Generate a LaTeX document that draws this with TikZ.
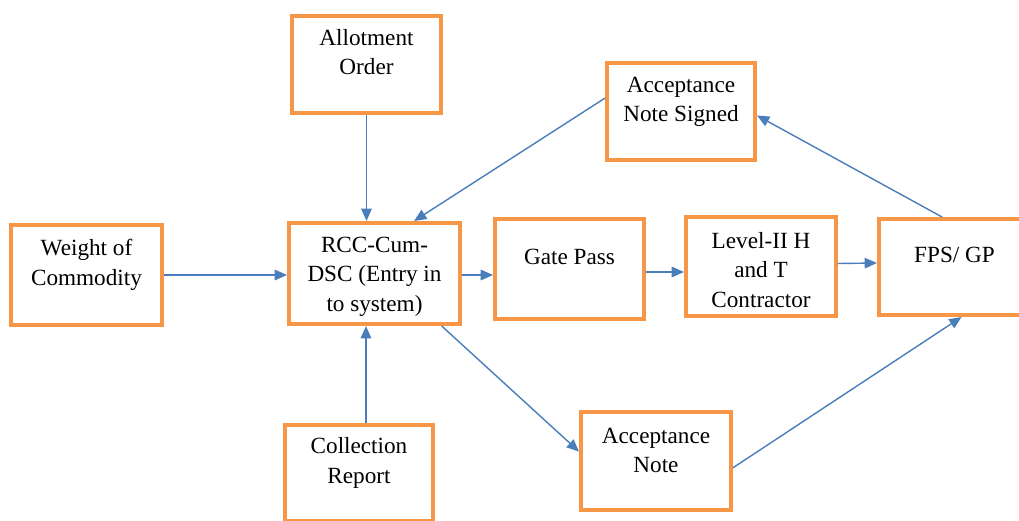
\documentclass[tikz,border=0pt]{standalone}
\usepackage{fontspec}
\setmainfont{Liberation Serif}
\usetikzlibrary{arrows.meta}
\definecolor{boxorange}{HTML}{F79646}
\definecolor{flowblue}{HTML}{4A7EBB}

\begin{document}
\begin{tikzpicture}[x=0.02cm,y=-0.02cm,
    box/.style={draw=boxorange, line width=2.3pt, minimum width=3cm, minimum height=2cm, inner sep=0pt},
    txt/.style={font=\fontsize{13.2}{16.8}\selectfont, align=center, anchor=base, inner sep=0pt},
    flow/.style={draw=flowblue, line width=0.8pt, -{Triangle[length=7pt,width=6pt]}}]
    \useasboundingbox (0,0) rectangle (1019,521);
    %boxes
    \node[box, minimum width=2.98cm, minimum height=1.94cm] (allot) at (366.5,64.5) {};
    \node[box, minimum width=2.96cm, minimum height=1.94cm] (ans) at (681,111.5) {};
    \node[box, minimum width=3.02cm] (weight) at (86.5,275) {};
    \node[box, minimum width=3.42cm, minimum height=2.02cm] (rcc) at (374.5,273.5) {};
    \node[box, minimum width=2.98cm] (gate) at (569.5,269) {};
    \node[box, minimum height=1.98cm] (level) at (761,266.5) {};
    \node[box, minimum width=3.02cm, minimum height=1.92cm] (fps) at (954.5,267) {};
    \node[box, minimum width=2.96cm, minimum height=1.92cm] (coll) at (359,473) {};
    \node[box, minimum height=1.96cm] (accn) at (656,461) {};
    %texts (base = last line)
    \node[txt] at ([yshift=-1.22cm]allot.north) {Allotment\\Order};
    \node[txt] at ([yshift=-1.22cm]ans.north) {Acceptance\\Note Signed};
    \node[txt] at ([yshift=-1.25cm]weight.north) {Weight of\\Commodity};
    \node[txt] at ([yshift=-1.81cm]rcc.north) {RCC-Cum-\\DSC (Entry in\\to system)};
    \node[txt] at ([yshift=-0.96cm]gate.north) {Gate Pass};
    \node[txt] at ([yshift=-1.85cm]level.north) {Level-II H\\and T\\Contractor};
    \node[txt] at ([yshift=-0.91cm]fps.north) {FPS/ GP};
    \node[txt] at ([yshift=-1.21cm]coll.north) {Collection\\Report};
    \node[txt] at ([yshift=-1.26cm]accn.north) {Acceptance\\Note};
    %arrows
    \draw[flow] (allot.south) -- (allot.south |- rcc.north);
    \draw[flow] (ans.170) -- (rcc.53);
    \draw[flow] (weight.east) -- (weight.east -| rcc.west);
    \draw[flow] ([xshift=1.4mm]coll.north) -- ([xshift=1.4mm]coll.north |- rcc.south);
    \draw[flow] ([yshift=-0.03cm]rcc.east) -- ([yshift=-0.03cm]rcc.east -| gate.west);
    \draw[flow] ([yshift=-0.06cm]gate.east) -- ([yshift=-0.06cm]gate.east -| level.west);
    \draw[flow] ([yshift=0.06cm]level.east) -- ([yshift=0.08cm]fps.west);
    \draw[flow] (fps.104) -- (ans.357);
    \draw[flow] (rcc.322) -- (accn.173);
    \draw[flow] (accn.355) -- (fps.278);
\end{tikzpicture}
\end{document}
